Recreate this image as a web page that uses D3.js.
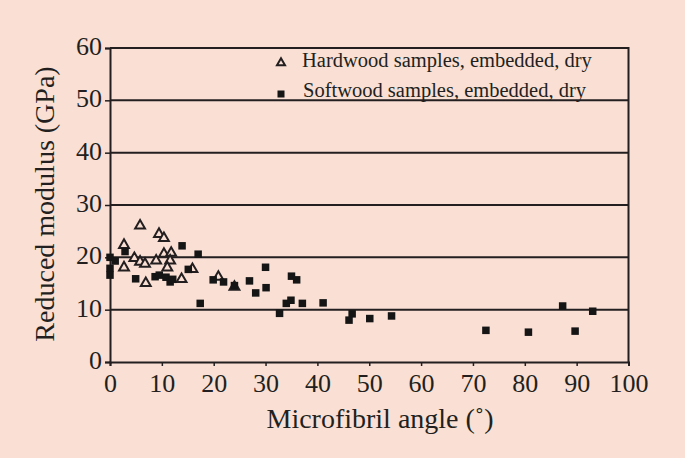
<!DOCTYPE html>
<html><head><meta charset="utf-8">
<script src="https://cdn.jsdelivr.net/npm/d3@7"></script>
</head>
<body style="margin:0;padding:0;background:#f9dfd4">
<script>
const xTicks = [0,10,20,30,40,50,60,70,80,90,100];
const yTicks = [0,10,20,30,40,50,60];
const xTitle = "Microfibril angle (˚)";
const yTitle = "Reduced modulus (GPa)";
const seriesNames = ["Hardwood samples, embedded, dry","Softwood samples, embedded, dry"];

const hardX = [5.8,9.45,10.4,2.7,4.7,5.8,6.75,2.7,8.9,10.4,11.8,11.6,11.05,6.9,13.8,15.9,20.9,24.0];
const hardY = [26.2,24.6,23.8,22.5,20.0,19.3,18.9,18.2,19.5,20.8,21.0,19.5,18.2,15.2,16.0,17.9,16.4,14.5];

const softX = [0,1.0,0,0,2.9,13.9,17.0,15.1,4.95,8.7,9.5,10.8,11.6,12.1,19.9,21.9,17.4,24.0,26.9,28.1,30.1,30.0,35.0,36.0,34.0,34.9,37.1,41.1,32.7,46.7,46.1,50.1,54.3,72.5,80.7,89.7,87.3,93.1];
const softY = [20.0,19.3,17.9,16.6,21.1,22.2,20.6,17.7,15.9,16.3,16.6,16.2,15.3,15.8,15.7,15.3,11.2,14.6,15.5,13.2,14.2,18.1,16.4,15.7,11.2,11.8,11.2,11.3,9.3,9.2,8.0,8.3,8.8,6.05,5.7,5.9,10.7,9.7];

const W = 685, H = 458;
const m = {left:110, right:628.5, top:48, bottom:362};
const ink = "#231f20";
const bg = "#f9dfd4";
const FONT = '"Liberation Serif"';

const svg = d3.select("body").append("svg").attr("width",W).attr("height",H).style("display","block");
svg.append("rect").attr("width",W).attr("height",H).attr("fill",bg);

const x = d3.scaleLinear().domain([0,100]).range([m.left,m.right]);
const y = d3.scaleLinear().domain([0,60]).range([m.bottom,m.top]);

// gridlines
svg.append("g").selectAll("line").data(yTicks.filter(d=>d>0)).join("line")
  .attr("x1",m.left).attr("x2",m.right)
  .attr("y1",d=>y(d)).attr("y2",d=>y(d))
  .attr("stroke",ink).attr("stroke-width",2);
// right frame
svg.append("line").attr("x1",m.right).attr("x2",m.right).attr("y1",m.top-1).attr("y2",m.bottom+1)
  .attr("stroke",ink).attr("stroke-width",2);

// axes
const xAxis = svg.append("g").attr("transform",`translate(0,${m.bottom})`)
  .call(d3.axisBottom(x).tickValues(xTicks).tickSize(4).tickPadding(7.5).tickFormat(d3.format("d")));
const yAxis = svg.append("g").attr("transform",`translate(${m.left},0)`)
  .call(d3.axisLeft(y).tickValues(yTicks).tickSize(5).tickPadding(3).tickFormat(d3.format("d")));
[xAxis,yAxis].forEach(g=>{
  g.attr("font-family",null).attr("font-size",null);
  g.select(".domain").attr("stroke",ink).attr("stroke-width",2);
  g.selectAll(".tick line").attr("stroke",ink).attr("stroke-width",1.5);
  g.selectAll("text").attr("fill",ink).style("font-family",FONT).style("font-size","26px");
});
yAxis.selectAll("text").attr("dy","0.25em");

// titles
svg.append("text").attr("x",380).attr("y",428).attr("text-anchor","middle")
  .attr("fill",ink).style("font-family",FONT).style("font-size","28px").text(xTitle);
svg.append("text").attr("transform","translate(54,204) rotate(-90)").attr("text-anchor","middle")
  .attr("fill",ink).style("font-family",FONT).style("font-size","28px").text(yTitle);

// markers
const tri = d3.symbol().type(d3.symbolTriangle).size(42);
svg.append("g").selectAll("path").data(hardX.map((v,i)=>[v,hardY[i]])).join("path")
  .attr("d",tri).attr("transform",d=>`translate(${x(d[0])},${y(d[1])+0.8})`)
  .attr("fill",bg).attr("stroke",ink).attr("stroke-width",2);
svg.append("g").selectAll("rect").data(softX.map((v,i)=>[v,softY[i]])).join("rect")
  .attr("x",d=>x(d[0])-3.75).attr("y",d=>y(d[1])-3.75).attr("width",7.5).attr("height",7.5)
  .attr("fill","#151515");

// legend
svg.append("path").attr("d",d3.symbol().type(d3.symbolTriangle).size(28)())
  .attr("transform","translate(281,63)").attr("fill",bg).attr("stroke",ink).attr("stroke-width",2);
svg.append("rect").attr("x",277.5).attr("y",90.5).attr("width",7).attr("height",7).attr("fill","#151515");
svg.append("text").attr("x",302).attr("y",67).attr("fill",ink).style("font-family",FONT).style("font-size","20.5px").text(seriesNames[0]);
svg.append("text").attr("x",303).attr("y",97).attr("fill",ink).style("font-family",FONT).style("font-size","20.5px").text(seriesNames[1]);
</script>
</body></html>
